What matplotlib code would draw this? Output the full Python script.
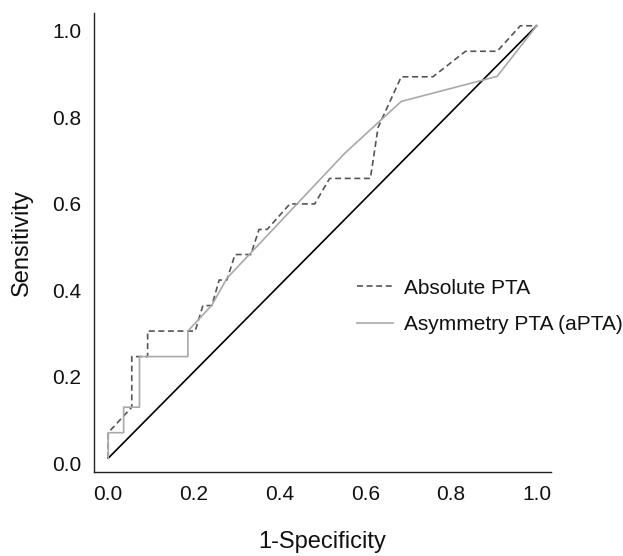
import matplotlib
matplotlib.use("Agg")
import matplotlib.pyplot as plt
import matplotlib.transforms as mtransforms

# ROC points
abs_fpr = [0, 0, 0.055, 0.055, 0.092, 0.092, 0.203, 0.221, 0.242, 0.259, 0.277, 0.296, 0.333,
           0.352, 0.371, 0.424, 0.482, 0.517, 0.612, 0.630, 0.684, 0.758, 0.834, 0.908, 0.962, 1.0]
abs_tpr = [0, 0.059, 0.118, 0.235, 0.235, 0.294, 0.294, 0.353, 0.353, 0.412, 0.412, 0.471, 0.471,
           0.529, 0.529, 0.588, 0.588, 0.647, 0.647, 0.765, 0.882, 0.882, 0.941, 0.941, 1.0, 1.0]

apta_fpr = [0, 0, 0.036, 0.036, 0.073, 0.073, 0.186, 0.186, 0.242, 0.277, 0.552, 0.684, 0.908, 1.0]
apta_tpr = [0, 0.059, 0.059, 0.118, 0.118, 0.235, 0.235, 0.294, 0.354, 0.416, 0.705, 0.825, 0.883, 1.0]

chance = [0, 1]
ticks = [0.0, 0.2, 0.4, 0.6, 0.8, 1.0]

plt.rcParams['font.family'] = ['Liberation Sans', 'DejaVu Sans']
plt.rcParams['lines.scale_dashes'] = False

fig = plt.figure(figsize=(6.23, 5.56), dpi=100)
ax = fig.add_axes([0.151, 0.151, 0.733, 0.826])

ax.plot(chance, chance, color='black', lw=1.2)
ax.plot(abs_fpr, abs_tpr, color='#555555', lw=1.2, linestyle=(0, (4.3, 2.6)), label='Absolute PTA')
ax.plot(apta_fpr, apta_tpr, color='#a9a9a9', lw=1.2, label='Asymmetry PTA (aPTA)')

ax.set_xlim(-0.033, 1.033)
ax.set_ylim(-0.032, 1.030)
ax.set_xticks(ticks)
ax.set_yticks(ticks)
ax.set_xticklabels([f"{t:.1f}" for t in ticks])
ax.set_yticklabels([f"{t:.1f}" for t in ticks])
ax.tick_params(length=0, labelsize=15, pad=9, labelcolor='#111111')

# labels in the reference sit a little below their gridline
offset = mtransforms.ScaledTranslation(0, -5 / 100, fig.dpi_scale_trans)
for lab in ax.get_yticklabels():
    lab.set_transform(lab.get_transform() + offset)

ax.set_xlabel('1-Specificity', fontsize=17, labelpad=20, color='#111111')
ax.set_ylabel('Sensitivity', fontsize=17, labelpad=14, color='#111111')

for side in ('top', 'right'):
    ax.spines[side].set_visible(False)
for side in ('left', 'bottom'):
    ax.spines[side].set_color('#222222')
    ax.spines[side].set_linewidth(1.0)

fig.legend(loc='center left', bbox_to_anchor=(0.573, 0.449), frameon=False, fontsize=15,
           handlelength=1.75, handletextpad=0.5, labelspacing=0.84, borderpad=0, borderaxespad=0,
           labelcolor='#111111')

fig.savefig('out.png', dpi=100)
